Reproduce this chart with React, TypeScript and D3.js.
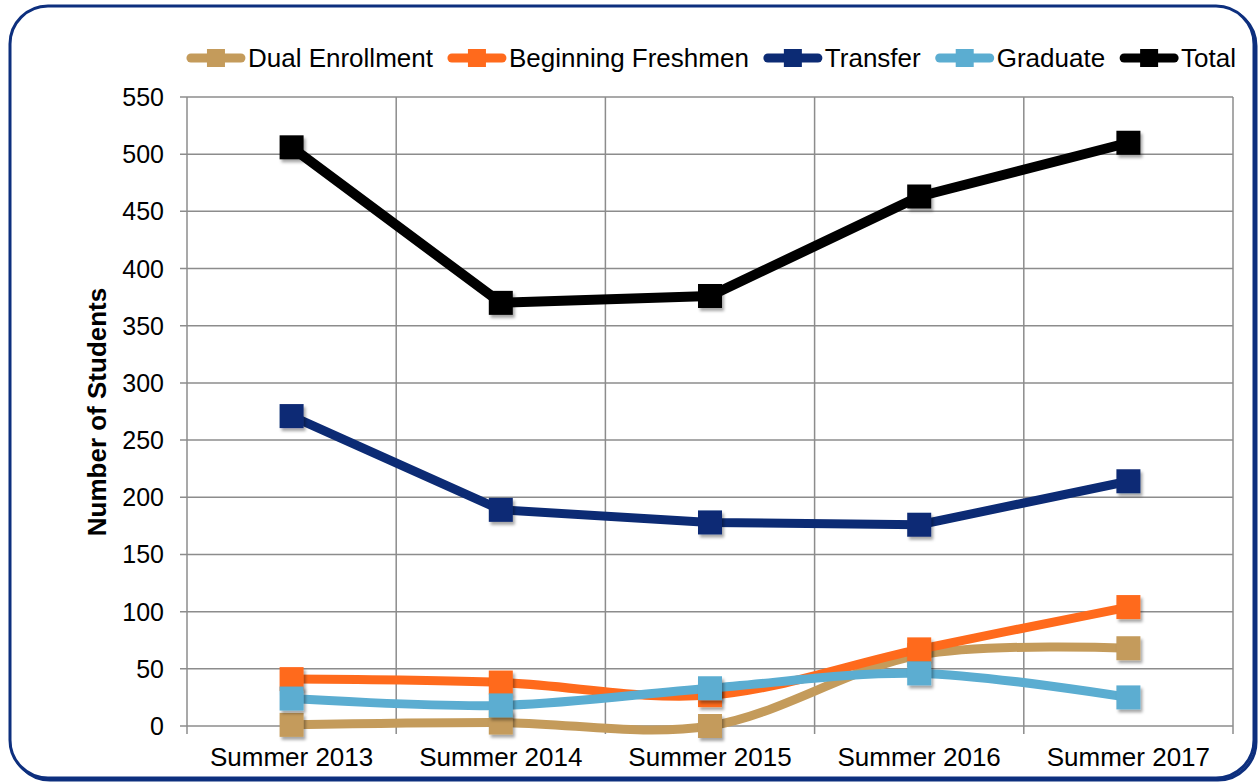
import React, { useEffect, useRef } from 'react';
import * as d3 from 'd3';

const categories = ['Summer 2013', 'Summer 2014', 'Summer 2015', 'Summer 2016', 'Summer 2017'];
const seriesNames = ['Dual Enrollment', 'Beginning Freshmen', 'Transfer', 'Graduate', 'Total'];
const dualEnrollment = [1, 3, 0, 62, 68];
const beginningFreshmen = [41, 38, 27, 67, 104];
const transfer = [271, 189, 178, 176, 214];
const graduate = [24, 18, 33, 46, 25];
const total = [506, 370, 376, 463, 510];
const yTicks = [0, 50, 100, 150, 200, 250, 300, 350, 400, 450, 500, 550];
const colors = ['#C49B5B', '#FF6A1C', '#0C2B74', '#5BADD1', '#000000'];
const smooth = [true, true, false, true, false];

const App = () => {
  const ref = useRef<SVGSVGElement>(null);

  useEffect(() => {
    const svg = d3.select(ref.current);
    svg.selectAll('*').remove();
    const W = 1260, H = 784;
    const m = { left: 187, right: 1233, top: 97, bottom: 726 };
    const font = 'Liberation Sans, Arial, sans-serif';

    const defs = svg.append('defs');
    const f = defs.append('filter').attr('id', 'mshadow').attr('x', '-50%').attr('y', '-50%').attr('width', '200%').attr('height', '200%');
    f.append('feDropShadow').attr('dx', 2).attr('dy', 3).attr('stdDeviation', 1.8).attr('flood-color', '#000').attr('flood-opacity', 0.35);

    svg.append('rect').attr('width', W).attr('height', H).attr('fill', '#fff');
    // frame
    svg.append('rect').attr('x', 12).attr('y', 8).attr('width', 1244).attr('height', 772).attr('rx', 38)
      .attr('fill', 'none').attr('stroke', '#0D2F7E').attr('stroke-width', 3);
    svg.append('rect').attr('x', 10).attr('y', 6).attr('width', 1244).attr('height', 772).attr('rx', 38)
      .attr('fill', '#fff').attr('stroke', '#0D2F7E').attr('stroke-width', 3);

    const x = d3.scaleBand().domain(categories).range([m.left, m.right]).paddingInner(0).paddingOuter(0);
    const y = d3.scaleLinear().domain([0, 550]).range([m.bottom, m.top]);
    const cx = (c: string) => (x(c) as number) + x.bandwidth() / 2;

    const grid = svg.append('g').attr('stroke', '#8C8C8C').attr('stroke-width', 1.5);
    yTicks.forEach(t => {
      grid.append('line').attr('x1', m.left - 7).attr('x2', m.right).attr('y1', y(t)).attr('y2', y(t));
    });
    const edges = categories.map(c => x(c) as number).concat([m.right]);
    edges.forEach(e => {
      grid.append('line').attr('x1', e).attr('x2', e).attr('y1', m.top).attr('y2', m.bottom + 8);
    });

    svg.append('g').selectAll('text').data(yTicks).enter().append('text')
      .attr('x', 164).attr('y', d => y(d)).attr('dy', '0.36em')
      .attr('text-anchor', 'end').attr('font-family', font).attr('font-size', 25).attr('fill', '#000')
      .text(d => String(d));

    svg.append('g').selectAll('text').data(categories).enter().append('text')
      .attr('x', d => cx(d)).attr('y', 766)
      .attr('text-anchor', 'middle').attr('font-family', font).attr('font-size', 26).attr('fill', '#000')
      .text(d => d);

    svg.append('text')
      .attr('transform', 'translate(106,412) rotate(-90)')
      .attr('text-anchor', 'middle').attr('font-family', font).attr('font-size', 26).attr('font-weight', 'bold')
      .text('Number of Students');

    const data = [dualEnrollment, beginningFreshmen, transfer, graduate, total];
    const ms = 24;
    data.forEach((vals, i) => {
      const g = svg.append('g');
      const line = d3.line<number>()
        .x((_, j) => cx(categories[j]))
        .y(d => y(d))
        .curve(smooth[i] ? d3.curveCatmullRom.alpha(0.5) : d3.curveLinear);
      g.append('path').attr('d', line(vals)).attr('fill', 'none').attr('stroke', colors[i])
        .attr('stroke-width', i === 4 ? 10 : 9).attr('stroke-linejoin', 'round');
      g.selectAll('rect').data(vals).enter().append('rect')
        .attr('x', (_, j) => cx(categories[j]) - ms / 2)
        .attr('y', d => y(d) - ms / 2)
        .attr('width', ms).attr('height', ms)
        .attr('fill', colors[i]).attr('filter', 'url(#mshadow)');
    });

    // legend
    const lg = svg.append('g');
    const items = seriesNames.map((n, i) => {
      const it = lg.append('g');
      it.append('line').attr('x1', 5).attr('x2', 55).attr('y1', 0).attr('y2', 0)
        .attr('stroke', colors[i]).attr('stroke-width', 9).attr('stroke-linecap', 'round');
      it.append('rect').attr('x', 21).attr('y', -9).attr('width', 18).attr('height', 18).attr('fill', colors[i]);
      const t = it.append('text').attr('x', 62).attr('dy', '0.36em').attr('font-family', font).attr('font-size', 26).text(n);
      const w = 62 + (t.node() as SVGTextElement).getComputedTextLength();
      return { it, w };
    });
    const gap = 14;
    const totalW = d3.sum(items, d => d.w) + gap * (items.length - 1);
    let cur = 711 - totalW / 2;
    items.forEach(d => {
      d.it.attr('transform', `translate(${cur},58)`);
      cur += d.w + gap;
    });
  }, []);

  return (
    <div style={{ position: 'absolute', left: 0, top: 0 }}>
      <svg ref={ref} width={1260} height={784} style={{ display: 'block' }} />
    </div>
  );
};

export default App;
